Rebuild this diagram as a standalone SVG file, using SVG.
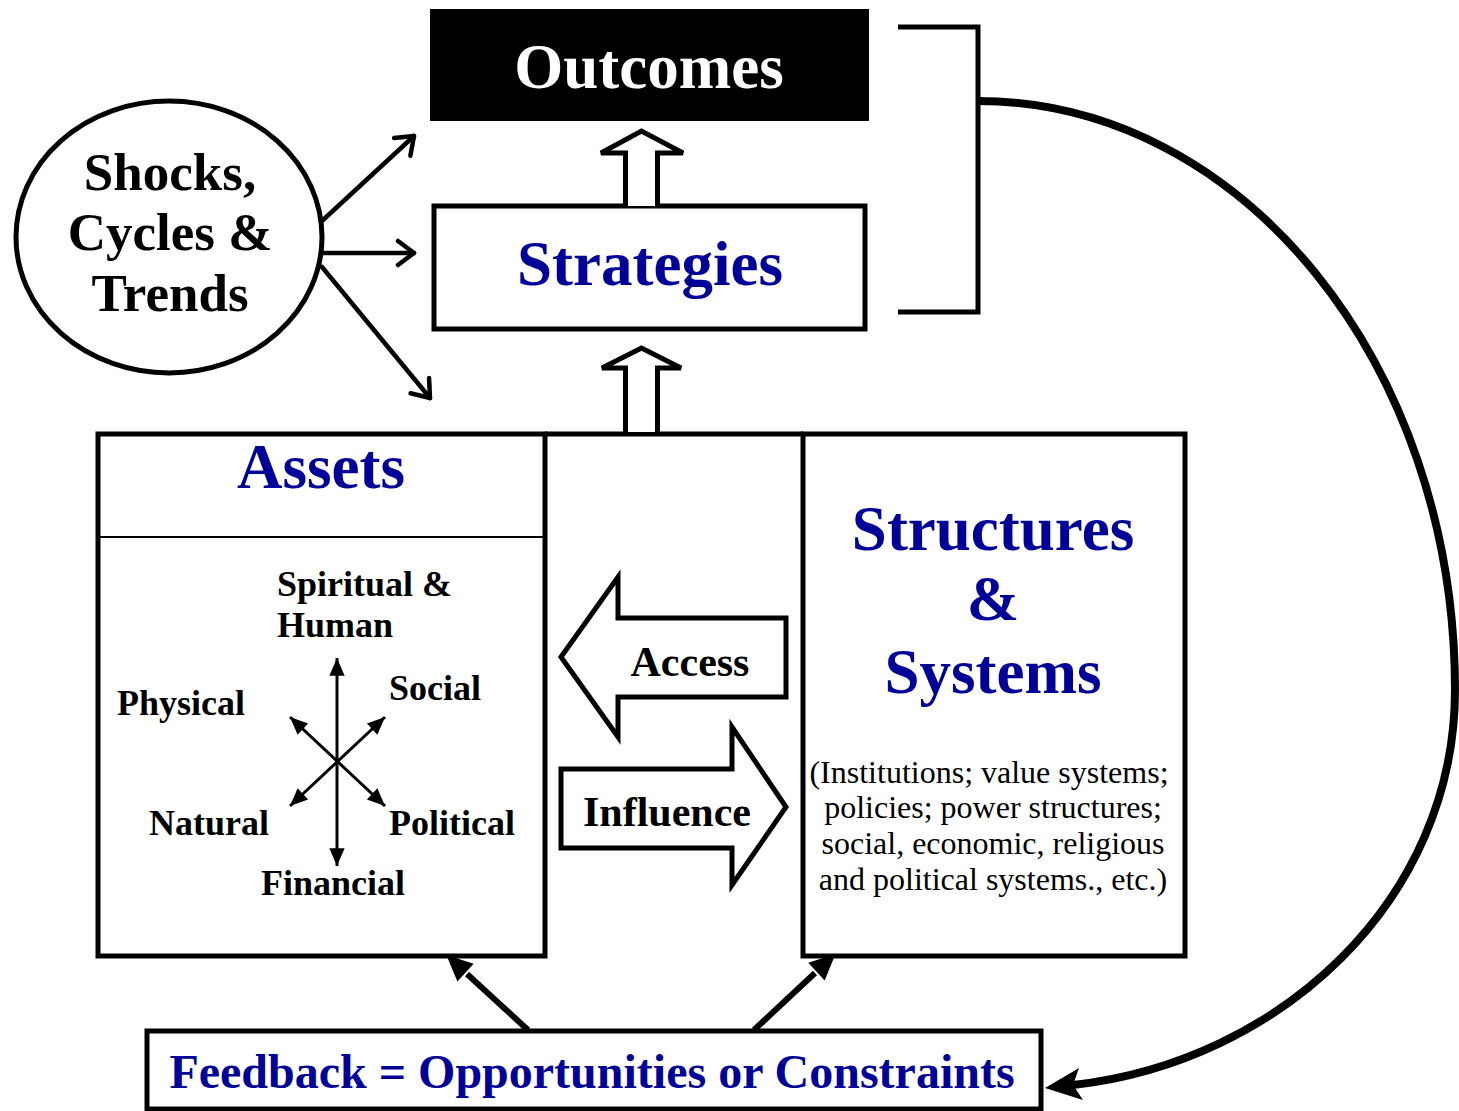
<svg xmlns="http://www.w3.org/2000/svg" width="1459" height="1111" viewBox="0 0 1459 1111">
<style>
  .t { font-family: "Liberation Serif", "Times New Roman", serif; font-weight: bold; }
  .blue { fill: #000099; }
  .blk { fill: #000; }
  .box { fill: #fff; stroke: #000; stroke-width: 5; }
  .ln { fill: none; stroke: #000; }
</style>
<defs>
  <marker id="vhead" markerUnits="userSpaceOnUse" markerWidth="30" markerHeight="30" viewBox="-20 -15 24 30" refX="0" refY="0" orient="auto">
    <path d="M-16,-12 L0,0 L-16,12" fill="none" stroke="#000" stroke-width="4.5" stroke-linecap="round" stroke-linejoin="round"/>
  </marker>
  <marker id="fhead" markerUnits="userSpaceOnUse" markerWidth="20" markerHeight="20" viewBox="-16 -8 17 16" refX="0" refY="0" orient="auto-start-reverse">
    <path d="M-15,-6.5 L0,0 L-15,6.5 Z" fill="#000"/>
  </marker>
  <marker id="bhead" markerUnits="userSpaceOnUse" markerWidth="36" markerHeight="36" viewBox="-12 -15 36 30" refX="-8" refY="0" orient="auto">
    <path d="M-6,-12 L20,0 L-6,12 Z" fill="#000"/>
  </marker>
</defs>

<g id="outcomes">
  <rect x="430" y="9" width="439" height="112" fill="#000"/>
  <text class="t" x="649" y="88" font-size="63" text-anchor="middle" fill="#fff">Outcomes</text>
</g>

<g id="strategies">
  <rect class="box" x="434" y="206" width="431" height="123" stroke-width="6"/>
  <text class="t blue" x="650" y="285" font-size="63" text-anchor="middle">Strategies</text>
</g>

<g id="shocks">
  <ellipse cx="169" cy="237" rx="153" ry="136" fill="#fff" stroke="#000" stroke-width="5"/>
  <text class="t blk" x="170" y="190" font-size="53" text-anchor="middle">Shocks,</text>
  <text class="t blk" x="170" y="250" font-size="53" text-anchor="middle">Cycles &amp;</text>
  <text class="t blk" x="170" y="311" font-size="53" text-anchor="middle">Trends</text>
</g>

<g id="assets">
  <rect class="box" x="98" y="434" width="447" height="522"/>
  <line x1="98" y1="537" x2="545" y2="537" stroke="#000" stroke-width="2"/>
  <text class="t blue" x="321" y="488" font-size="63" text-anchor="middle">Assets</text>
  <text class="t blk" x="277" y="596" font-size="36">Spiritual &amp;</text>
  <text class="t blk" x="277" y="637" font-size="36">Human</text>
  <text class="t blk" x="117" y="715" font-size="36">Physical</text>
  <text class="t blk" x="389" y="700" font-size="36">Social</text>
  <text class="t blk" x="149" y="835" font-size="36">Natural</text>
  <text class="t blk" x="389" y="835" font-size="36">Political</text>
  <text class="t blk" x="261" y="895" font-size="36">Financial</text>
  <g stroke="#000" stroke-width="3" fill="none">
    <line x1="337" y1="658" x2="337" y2="866" marker-start="url(#fhead)" marker-end="url(#fhead)"/>
    <line x1="290" y1="717" x2="385" y2="806" marker-start="url(#fhead)" marker-end="url(#fhead)"/>
    <line x1="385" y1="717" x2="290" y2="806" marker-start="url(#fhead)" marker-end="url(#fhead)"/>
  </g>
</g>

<g id="structures">
  <rect class="box" x="803" y="434" width="382" height="522"/>
  <text class="t blue" x="993" y="550" font-size="63" text-anchor="middle">Structures</text>
  <text class="t blue" x="993" y="620" font-size="63" text-anchor="middle">&amp;</text>
  <text class="t blue" x="993" y="693" font-size="63" text-anchor="middle">Systems</text>
  <g font-family="Liberation Serif, Times New Roman, serif" font-size="32" text-anchor="middle" fill="#000">
    <text x="989" y="783">(Institutions; value systems;</text>
    <text x="993" y="818">policies; power structures;</text>
    <text x="993" y="854">social, economic, religious</text>
    <text x="993" y="890">and political systems., etc.)</text>
  </g>
</g>

<g id="middle">
  <line x1="545" y1="434" x2="803" y2="434" stroke="#000" stroke-width="5"/>
</g>

<g id="access">
  <polygon points="561,657 618,577 618,618 786,618 786,697 618,697 618,737" fill="#fff" stroke="#000" stroke-width="5" stroke-linejoin="miter"/>
  <text class="t blk" x="690" y="676" font-size="42" text-anchor="middle">Access</text>
</g>

<g id="influence">
  <polygon points="561,769 732,769 732,727 786,807 732,885 732,848 561,848" fill="#fff" stroke="#000" stroke-width="5" stroke-linejoin="miter"/>
  <text class="t blk" x="667" y="826" font-size="42" text-anchor="middle">Influence</text>
</g>

<g id="feedback">
  <rect class="box" x="147" y="1031" width="894" height="78" stroke-width="6"/>
  <text class="t blue" x="592" y="1088" font-size="48" text-anchor="middle">Feedback = Opportunities or Constraints</text>
</g>

<g id="bracket">
  <polyline class="ln" points="898,27 978,27 978,312 898,312" stroke-width="5"/>
</g>

<g id="connectors">
  <!-- hollow block arrows -->
  <polyline points="625.5,206 625.5,153 601,153 641.5,131 683,153 657.5,153 657.5,206" fill="#fff" stroke="#000" stroke-width="5" stroke-linejoin="miter"/>
  <polyline points="625.5,432 625.5,368 602,368 641.5,348 681,368 657.5,368 657.5,432" fill="#fff" stroke="#000" stroke-width="5" stroke-linejoin="miter"/>
  <!-- shocks arrows -->
  <g stroke="#000" stroke-width="4.5" fill="none" stroke-linecap="round">
    <line x1="323" y1="220" x2="414" y2="136" marker-end="url(#vhead)"/>
    <line x1="323" y1="253" x2="414" y2="253" marker-end="url(#vhead)"/>
    <line x1="322" y1="267" x2="430" y2="398" marker-end="url(#vhead)"/>
  </g>
  <!-- feedback arrows up -->
  <g stroke="#000" stroke-width="6" fill="none">
    <line x1="528" y1="1030" x2="467" y2="974" marker-end="url(#bhead)"/>
    <line x1="754" y1="1030" x2="815" y2="973" marker-end="url(#bhead)"/>
  </g>
  <!-- big feedback loop -->
  <path d="M978,101 C1242,101 1455,364 1455,690 C1455,900 1280,1062 1073,1085" fill="none" stroke="#000" stroke-width="8"/>
  <path d="M1045,1088 L1079,1068 L1073,1085 L1083,1100 Z" fill="#000"/>
</g>
</svg>
